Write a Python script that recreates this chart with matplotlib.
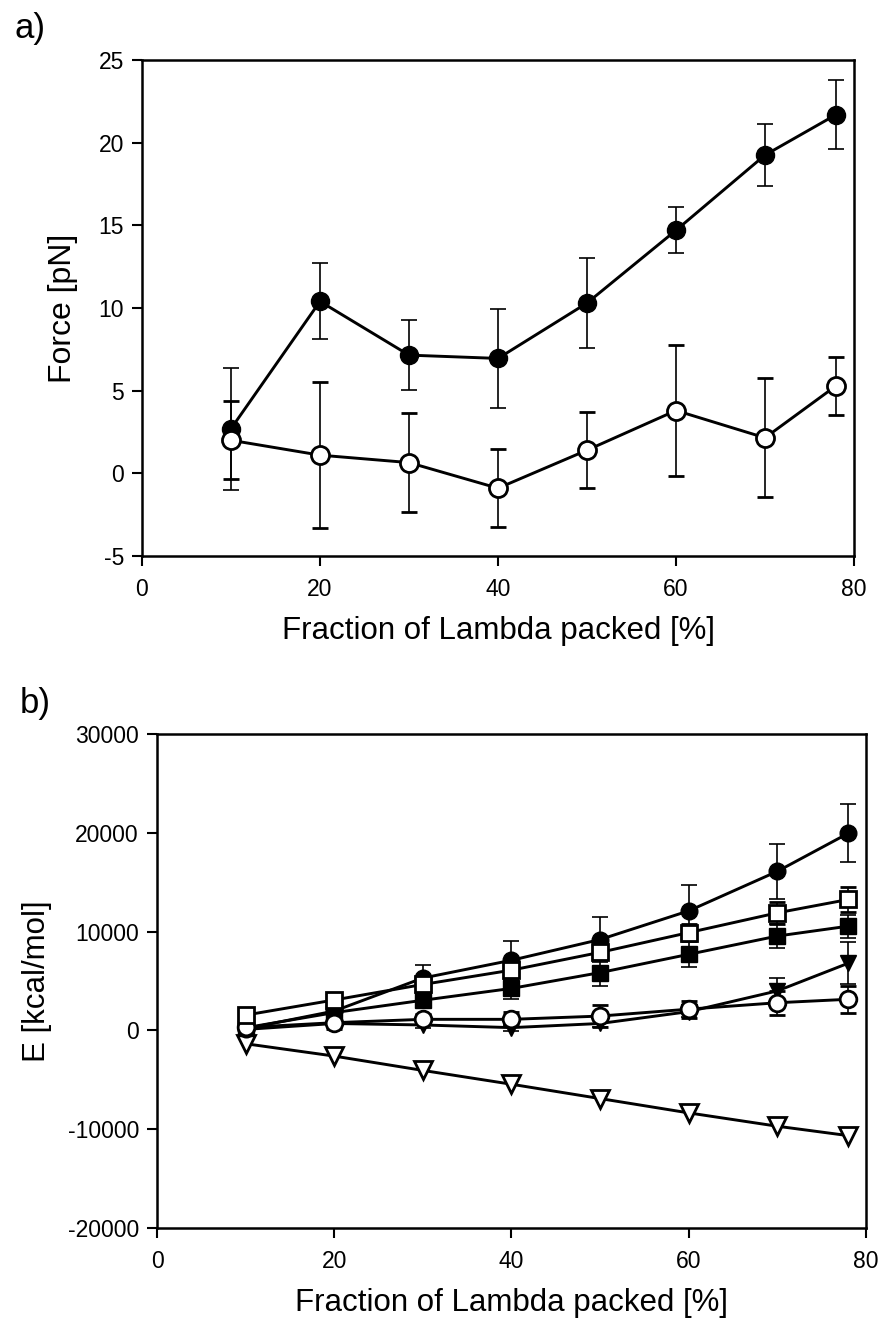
# packaging force and energy vs fraction of lambda packed - two stacked panels

import numpy as np
import matplotlib.pyplot as plt

plt.rcParams['font.family'] = ['Liberation Sans', 'DejaVu Sans']
plt.rcParams['axes.unicode_minus'] = False

# x positions (fraction packed, %)
frac = [10, 20, 30, 40, 50, 60, 70, 78]

# panel a - force
force_filled = [2.7, 10.4, 7.15, 6.95, 10.3, 14.7, 19.25, 21.7]
force_filled_err = [3.7, 2.3, 2.1, 3.0, 2.7, 1.4, 1.9, 2.1]
force_open = [2.0, 1.1, 0.65, -0.9, 1.4, 3.8, 2.15, 5.3]
force_open_err = [2.35, 4.4, 3.0, 2.35, 2.3, 3.95, 3.6, 1.75]

# panel b - energy terms
e_circ_f = [170, 1960, 5300, 7100, 9200, 12100, 16100, 19950]
e_circ_f_err = [300, 700, 1300, 1950, 2300, 2650, 2800, 2950]
e_sq_o = [1550, 3080, 4650, 6100, 7900, 9900, 11900, 13250]
e_sq_o_err = [300, 400, 500, 600, 700, 900, 1100, 1300]
e_sq_f = [270, 1800, 3050, 4250, 5850, 7700, 9550, 10550]
e_sq_f_err = [200, 400, 600, 1100, 1400, 1300, 1200, 1150]
e_tri_f = [100, 700, 550, 280, 700, 1900, 4000, 6800]
e_tri_f_err = [100, 200, 300, 300, 400, 500, 1350, 2100]
e_circ_o = [300, 780, 1120, 1120, 1450, 2150, 2800, 3150]
e_circ_o_err = [200, 600, 500, 700, 1100, 850, 1200, 1350]
e_tri_o = [-1350, -2600, -4050, -5450, -6900, -8350, -9700, -10650]

fig = plt.figure(figsize=(8.82, 13.27), dpi=100)
ax1 = fig.add_axes([142/882, 1-556/1327, (854-142)/882, (556-60)/1327])
ax2 = fig.add_axes([157/882, 1-1228/1327, (866-157)/882, (1228-734)/1327])

lw = 2.1
ms = 12
ekw = dict(elinewidth=1.2, capsize=5.5, capthick=1.2, ecolor='black')

ax1.errorbar(frac, force_filled, yerr=force_filled_err, color='black', lw=lw,
             marker='o', ms=13, mfc='black', mec='black', **ekw)
ax1.errorbar(frac, force_open, yerr=force_open_err, color='black', lw=lw,
             marker='o', ms=13, mfc='white', mec='black', mew=2, **ekw)
ax1.set_xlim(0, 80)
ax1.set_ylim(-5, 25)
ax1.set_xticks([0, 20, 40, 60, 80])
ax1.set_yticks(np.arange(-5, 26, 5))
ax1.set_ylabel('Force [pN]', fontsize=23, labelpad=15)
ax1.set_xlabel('Fraction of Lambda packed [%]', fontsize=22.5, labelpad=11)

ax2.errorbar(frac, e_circ_f, yerr=e_circ_f_err, color='black', lw=lw,
             marker='o', ms=ms, mfc='black', mec='black', **ekw)
ax2.errorbar(frac, e_sq_f, yerr=e_sq_f_err, color='black', lw=lw,
             marker='s', ms=ms-1, mfc='black', mec='black', **ekw)
ax2.errorbar(frac, e_tri_f, yerr=e_tri_f_err, color='black', lw=lw,
             marker='v', ms=ms, mfc='black', mec='black', **ekw)
ax2.errorbar(frac, e_circ_o, yerr=e_circ_o_err, color='black', lw=lw,
             marker='o', ms=ms, mfc='white', mec='black', mew=2, **ekw)
ax2.errorbar(frac, e_sq_o, yerr=e_sq_o_err, color='black', lw=lw,
             marker='s', ms=ms-1, mfc='white', mec='black', mew=2, **ekw)
ax2.plot(frac, e_tri_o, color='black', lw=lw,
         marker='v', ms=ms+1, mfc='white', mec='black', mew=2)
ax2.set_xlim(0, 80)
ax2.set_ylim(-20000, 30000)
ax2.set_xticks([0, 20, 40, 60, 80])
ax2.set_yticks(np.arange(-20000, 30001, 10000))
ax2.set_ylabel('E [kcal/mol]', fontsize=22.5, labelpad=11)
ax2.set_xlabel('Fraction of Lambda packed [%]', fontsize=22.5, labelpad=11)

for ax in (ax1, ax2):
    for s in ax.spines.values():
        s.set_linewidth(1.8)
    ax.tick_params(direction='out', length=7, width=1.5, labelsize=16.5)
    ax.tick_params(axis='x', pad=9)
    ax.tick_params(axis='y', pad=6)

fig.text(15/882, 1-38/1327, 'a)', fontsize=25)
fig.text(20/882, 1-713/1327, 'b)', fontsize=25)

plt.savefig('out.png', dpi=100)
